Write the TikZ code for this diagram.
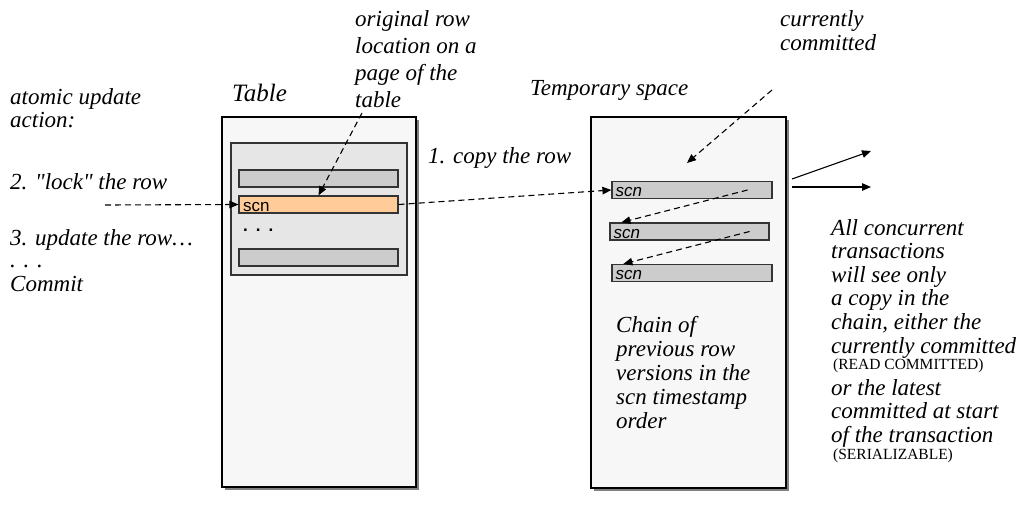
\documentclass[tikz,border=0pt]{standalone}
\usepackage{fontspec}
\setmainfont{Liberation Serif}
\setsansfont{Liberation Sans}
\usetikzlibrary{shapes,arrows,arrows.meta,shadows}

\definecolor{pageColor}{RGB}{247,247,247}
\definecolor{blockColor}{RGB}{230,230,230}
\definecolor{rowColor}{RGB}{204,204,204}
\definecolor{hitColor}{RGB}{255,204,153}
\definecolor{shadowColor}{RGB}{128,128,128}

\tikzset{
  note/.style={font=\fontsize{23}{27.5}\selectfont\itshape, inner sep=0pt, anchor=base west},
  smallnote/.style={font=\fontsize{15.5}{18}\selectfont, inner sep=0pt, anchor=base west},
  pagebox/.style={draw=black, line width=1.5pt, fill=pageColor, inner sep=0pt,
    drop shadow={shadow xshift=3pt,shadow yshift=-3pt,fill=shadowColor,opacity=1}},
  blockbox/.style={draw=black!80, line width=1.2pt, fill=blockColor, inner sep=0pt},
  rowbox/.style={draw=black!80, line width=1.2pt, fill=rowColor, inner sep=0pt, minimum height=17pt},
  scnlabel/.style={font=\fontsize{17}{17}\selectfont\sffamily, inner sep=0pt, anchor=base west},
  dashlink/.style={->,>={Triangle[length=9pt,width=7.5pt]}, line width=1.1pt, dash pattern=on 6pt off 4pt},
  solidlink/.style={->,>={Triangle[length=9pt,width=7.5pt]}, line width=1.1pt}
}

\begin{document}
\begin{tikzpicture}[x=1pt,y=-1pt]
\useasboundingbox (0,0) rectangle (1026,506);
% steps of the update
\foreach \y/\t in {104/atomic update,127/action:,189/2. \textquotedbl lock\textquotedbl{} the row,245/3. update the row…,267/. . .,291/Commit}
  \node[note] (step\y) at (10,\y) {\t};
% the table page
\node[pagebox, minimum width=194pt, minimum height=370pt] (table) at (319,302) {};
\node[note, font=\fontsize{25}{28}\selectfont\itshape] (tablelabel) at (232,101) {Table};
\node[blockbox, minimum width=176pt, minimum height=132pt] (page) at (319,209) {};
\node[rowbox, minimum width=159pt] (row1) at (318.5,178.5) {};
\node[rowbox, minimum width=159pt, fill=hitColor] (orow) at (318.5,204.5) {};
\node[rowbox, minimum width=159pt] (row3) at (318.5,257.5) {};
\node[scnlabel] (oscn) at (243,211) {scn};
\node[scnlabel, font=\fontsize{17}{17}\selectfont\sffamily\bfseries] (dots) at (243,231) {.\hspace{8pt}.\hspace{8pt}.};
\foreach \t [count=\i from 0] in {original row, location on a, page of the, table}
  \node[note] (orig\i) at (355,26+27*\i) {\t};
% temporary space
\node[pagebox, minimum width=195pt, minimum height=371pt] (temp) at (688.5,302.5) {};
\node[note] (templabel) at (530,95) {Temporary space};
\node[rowbox, minimum width=160pt] (ver1) at (692,190) {};
\node[rowbox, minimum width=159pt] (ver2) at (689.5,231.5) {};
\node[rowbox, minimum width=160pt] (ver3) at (692,273) {};
\foreach \v in {1,2,3}
  \node[scnlabel, font=\fontsize{17}{17}\selectfont\sffamily\itshape] (scn\v) at ([xshift=4pt,yshift=2.5pt]ver\v.south west) {scn};
\foreach \t [count=\i from 0] in {Chain of, previous row, versions in the, scn timestamp, order}
  \node[note] (chain\i) at (616,332+24*\i) {\t};
\node[note] (cur0) at (780,26) {currently};
\node[note] (cur1) at (780,50) {committed};
\node[note] (copylabel) at (428,163) {1. copy the row};
% readers
\foreach \t [count=\i from 0] in {All concurrent, transactions, will see only, a copy in the, {chain, either the}, currently committed}
  \node[note] (see\i) at (831,235+23.6*\i) {\t};
\node[smallnote] (readc) at (833,369.5) {(READ COMMITTED)};
\foreach \t [count=\i from 0] in {or the latest, committed at start, of the transaction}
  \node[note] (late\i) at (831,395+23.6*\i) {\t};
\node[smallnote] (serial) at (833,459.5) {(SERIALIZABLE)};
% connectors
\coordinate (lockfrom) at (105,205);
\coordinate (origfrom) at (362,113);
\coordinate (curfrom) at (772,90);
\coordinate (curto) at (687,163);
\coordinate (out1) at (792,179);
\coordinate (in1) at (871,151);
\coordinate (out2) at (792,187);
\coordinate (in2) at (871,187);
\draw[dashlink] (lockfrom) -- (orow.west);
\draw[dashlink] (origfrom) -- (orow.north);
\draw[dashlink] (orow.east) -- (ver1.west);
\draw[dashlink] (curfrom) -- (curto);
\draw[dashlink] ([xshift=-25pt]ver1.east) -- ([xshift=12pt]ver2.north west);
\draw[dashlink] ([xshift=-20pt]ver2.east) -- ([xshift=12pt]ver3.north west);
\draw[solidlink] (out1) -- (in1);
\draw[solidlink] (out2) -- (in2);
\end{tikzpicture}
\end{document}
